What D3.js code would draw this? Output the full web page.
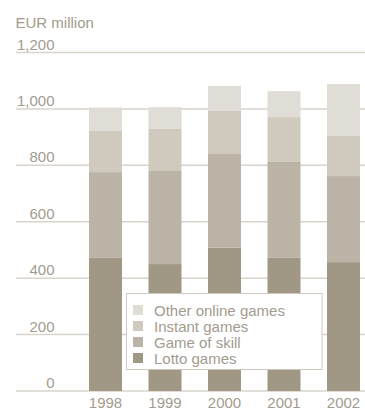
<!DOCTYPE html>
<html>
<head>
<meta charset="utf-8">
<script src="https://cdn.jsdelivr.net/npm/d3@7"></script>
<style>
  html, body { margin: 0; padding: 0; background: #fff; }
  svg { display: block; font-family: "Liberation Sans", Arial, Helvetica, sans-serif; }
</style>
</head>
<body>
<svg id="chart" width="365" height="411"></svg>
<script>
// Revenue by game type, EUR million
const years = ["1998", "1999", "2000", "2001", "2002"];
const lotto = [472, 450, 508, 472, 457];
const skill = [304, 330, 332, 340, 305];
const instant = [146, 149, 153, 159, 142];
const otherOnline = [83, 77, 88, 92, 184];
const yTicks = [0, 200, 400, 600, 800, 1000, 1200];

const seriesKeys = ["Lotto games", "Game of skill", "Instant games", "Other online games"];
const seriesValues = [lotto, skill, instant, otherOnline];
const colors = ["#a19785", "#bcb3a7", "#d0c9be", "#e0dcd6"];

const rows = years.map((y, i) => {
  const r = { year: y };
  seriesKeys.forEach((k, j) => { r[k] = seriesValues[j][i]; });
  return r;
});

const svg = d3.select("#chart");
const textColor = "#a39b8f";
const fontSize = 15;

const x = d3.scaleBand()
  .domain(years)
  .range([75.75, 373.25])
  .paddingInner(0.445)
  .paddingOuter(0.2225);

const y = d3.scaleLinear()
  .domain([0, 1200])
  .range([391, 52.5]);

// Horizontal gridlines with labels sitting above them
const grid = svg.append("g");
grid.selectAll("line")
  .data(yTicks)
  .join("line")
  .attr("x1", 16)
  .attr("x2", 365)
  .attr("y1", d => y(d))
  .attr("y2", d => y(d))
  .attr("stroke", "#d9d4cc")
  .attr("stroke-width", 1.5);

grid.selectAll("text")
  .data(yTicks)
  .join("text")
  .attr("x", 54.5)
  .attr("y", d => y(d) - 3)
  .attr("text-anchor", "end")
  .attr("fill", textColor)
  .attr("font-size", fontSize)
  .text(d => d3.format(",")(d));

svg.append("text")
  .attr("x", 15.5)
  .attr("y", 27.5)
  .attr("fill", textColor)
  .attr("font-size", fontSize)
  .text("EUR million");

// Stacked bars
const stacked = d3.stack().keys(seriesKeys)(rows);
svg.append("g")
  .selectAll("g")
  .data(stacked)
  .join("g")
  .attr("fill", (d, i) => colors[i])
  .selectAll("rect")
  .data(d => d)
  .join("rect")
  .attr("x", d => x(d.data.year))
  .attr("width", x.bandwidth())
  .attr("y", d => y(d[1]))
  .attr("height", d => y(d[0]) - y(d[1]));

// Year labels
svg.append("g")
  .selectAll("text")
  .data(years)
  .join("text")
  .attr("x", d => x(d) + x.bandwidth() / 2)
  .attr("y", 408)
  .attr("text-anchor", "middle")
  .attr("fill", textColor)
  .attr("font-size", fontSize)
  .text(d => d);

// Legend box
const legend = svg.append("g");
legend.append("rect")
  .attr("x", 126.5)
  .attr("y", 293.5)
  .attr("width", 195.5)
  .attr("height", 76)
  .attr("fill", "#fff")
  .attr("stroke", "#cfc8be")
  .attr("stroke-width", 1);

const legendItems = seriesKeys.map((k, i) => ({ key: k, color: colors[i] })).reverse();
const item = legend.selectAll("g.item")
  .data(legendItems)
  .join("g")
  .attr("class", "item")
  .attr("transform", (d, i) => `translate(133, ${310 + i * 16})`);

item.append("rect")
  .attr("x", 0)
  .attr("y", -5)
  .attr("width", 10)
  .attr("height", 10)
  .attr("fill", d => d.color);

item.append("text")
  .attr("x", 21)
  .attr("y", 5.5)
  .attr("fill", textColor)
  .attr("font-size", fontSize)
  .text(d => d.key);
</script>
</body>
</html>
